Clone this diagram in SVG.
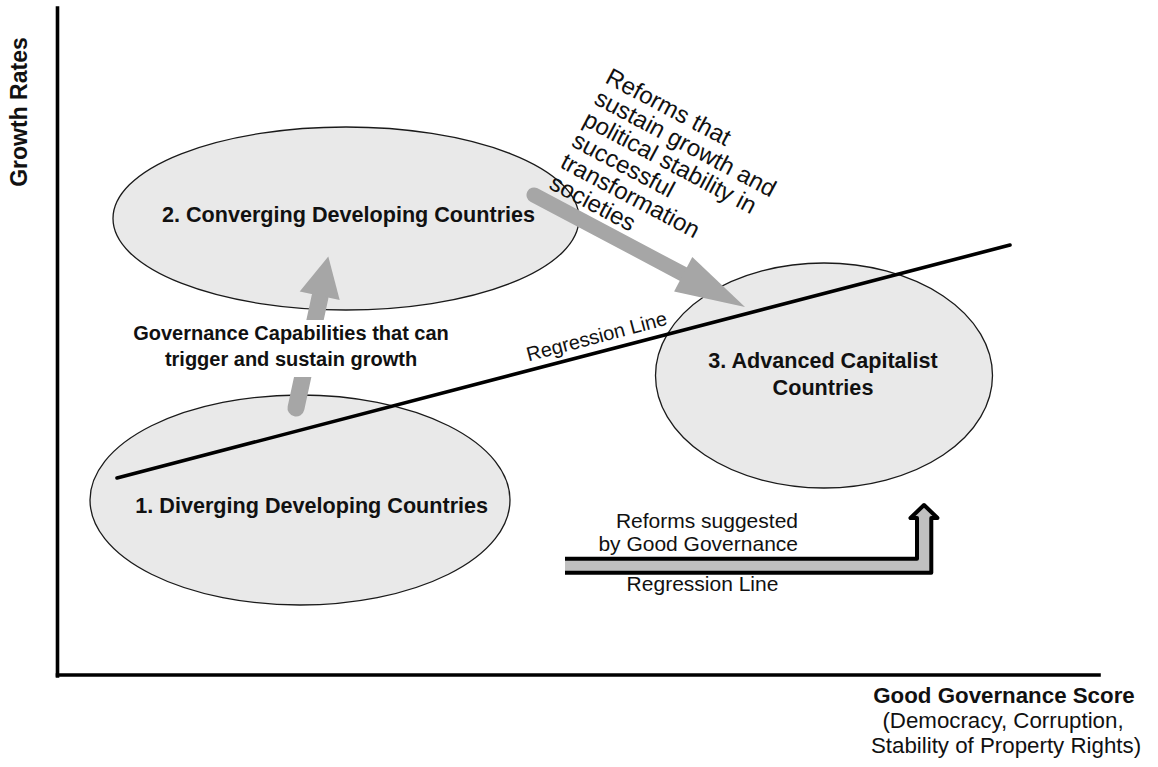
<svg xmlns="http://www.w3.org/2000/svg" width="1158" height="767" viewBox="0 0 1158 767">
<style>
.t{font-family:"Liberation Sans",Arial,Helvetica,sans-serif;fill:#111;}
.b{font-weight:bold;}
.ell{fill:#e9e9e9;stroke:#1a1a1a;stroke-width:1.3;}
.axis{stroke:#000;stroke-width:3.6;fill:none;stroke-linecap:square;}
.reg{stroke:#000;stroke-width:3.6;stroke-linecap:round;fill:none;}
.gshaft{stroke:#a6a6a6;stroke-linecap:round;fill:none;}
.ghead{fill:#a6a6a6;}
</style>
<rect width="1158" height="767" fill="#fff"/>
<g id="axes">
<line class="axis" x1="57.5" y1="8" x2="57.5" y2="676"/>
<line class="axis" x1="57.5" y1="675" x2="1099" y2="675"/>
<text class="t b" font-size="23" text-anchor="middle" transform="translate(27,112) rotate(-90)">Growth Rates</text>
<text class="t b" font-size="22.3" text-anchor="middle" x="1004" y="703">Good Governance Score</text>
<text class="t" font-size="22.3" text-anchor="middle" x="1003" y="727.8">(Democracy, Corruption,</text>
<text class="t" font-size="22.3" text-anchor="middle" x="1006" y="752.6">Stability of Property Rights)</text>
</g>
<g id="node2">
<ellipse class="ell" cx="346" cy="218.5" rx="233" ry="91.5"/>
<text class="t b" font-size="21.6" text-anchor="middle" x="348.5" y="222">2. Converging Developing Countries</text>
</g>
<g id="node1">
<ellipse class="ell" cx="300" cy="500" rx="210" ry="105"/>
</g>
<g id="node3">
<ellipse class="ell" cx="824" cy="375.5" rx="168.5" ry="112.5"/>
</g>
<g id="connectors">
<g id="regression">
<line class="reg" x1="117" y1="478" x2="1010" y2="245"/>
<text class="t" font-size="20" transform="translate(528.5,361.5) rotate(-14.85)">Regression Line</text>
</g>
<g id="arrow-up">
<line class="gshaft" stroke-width="17" x1="296" y1="408" x2="320" y2="297"/>
<polygon class="ghead" points="328.3,256.5 339.7,299.9 299.7,291.4"/>
</g>
<g id="arrow-diag">
<line class="gshaft" stroke-width="15" x1="534" y1="195" x2="684" y2="274.5"/>
<polygon class="ghead" points="745,307 674.1,291.4 692.3,257"/>
</g>
<g id="arrow-gg">
<path d="M565,572.8 H931.3 V518 H937.5 L924,505 L910.5,518 H917 V558.7 H565 Z" fill="#c0c0c0" stroke="none"/>
<path d="M565,572.8 H931.3 V518 H937.5 L924,505 L910.5,518 H917 V558.7 H565" fill="none" stroke="#000" stroke-width="4" stroke-linejoin="round"/>
</g>
</g>
<g id="label-governance">
<rect x="128" y="320" width="326" height="57" fill="#fff"/>
<text class="t b" font-size="20" text-anchor="middle" x="291" y="340">Governance Capabilities that can</text>
<text class="t b" font-size="20" text-anchor="middle" x="291" y="366">trigger and sustain growth</text>
</g>
<g id="node1-label">
<text class="t b" font-size="21.6" text-anchor="middle" x="311.7" y="513.3">1. Diverging Developing Countries</text>
</g>
<g id="node3-label">
<text class="t b" font-size="21.6" text-anchor="middle" x="823" y="368.3">3. Advanced Capitalist</text>
<text class="t b" font-size="21.6" text-anchor="middle" x="823" y="395">Countries</text>
</g>
<g id="label-reforms">
<text class="t" font-size="24" transform="translate(604,82) rotate(28)">
<tspan x="0" y="0">Reforms that</tspan>
<tspan x="0" y="24">sustain growth and</tspan>
<tspan x="0" y="48">political stability in</tspan>
<tspan x="0" y="72">successful</tspan>
<tspan x="0" y="96">transformation</tspan>
<tspan x="0" y="120">societies</tspan>
</text>
</g>
<g id="label-gg">
<text class="t" font-size="21" text-anchor="end" x="798" y="528">Reforms suggested</text>
<text class="t" font-size="21" text-anchor="end" x="798" y="551">by Good Governance</text>
<text class="t" font-size="21" text-anchor="middle" x="702.5" y="591">Regression Line</text>
</g>
</svg>
